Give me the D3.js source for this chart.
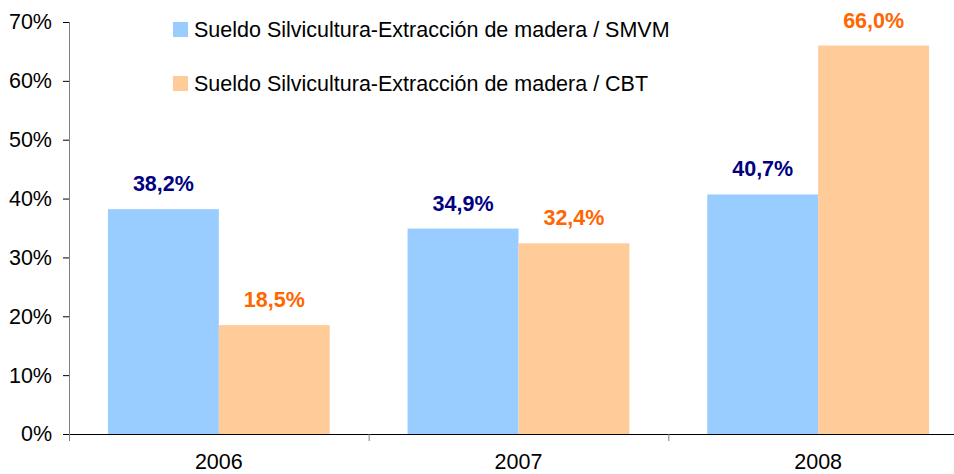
<!DOCTYPE html>
<html lang="es">
<head>
<meta charset="UTF-8">
<title>Sueldo Silvicultura</title>
<script src="https://cdn.jsdelivr.net/npm/d3@7"></script>
<style>
  body { margin: 0; background: #fff; }
  text { font-family: "Liberation Sans", Arial, sans-serif; }
</style>
</head>
<body>
<script>
    // datos
    var years = ["2006", "2007", "2008"];
    var smvm = [38.2, 34.9, 40.7];
    var cbt = [18.5, 32.4, 66.0];
    var seriesNames = ["Sueldo Silvicultura-Extracción de madera / SMVM",
                       "Sueldo Silvicultura-Extracción de madera / CBT"];
    var yTicks = [0, 10, 20, 30, 40, 50, 60, 70];

    var width = 954, height = 474;
    var mLeft = 69, mRight = 968, mTop = 22, mBottom = 434;
    var fs = 21.5;

    var svg = d3.select("body").append("svg")
        .attr("width", width)
        .attr("height", height);

    var x = d3.scaleBand().domain(years).range([mLeft, mRight]);
    var inner = d3.scaleBand().domain([0, 1]).range([0, x.bandwidth()])
        .paddingOuter(0.351).paddingInner(0);
    var y = d3.scaleLinear().domain([0, 70]).range([mBottom, mTop]);

    var series = [
        {name: seriesNames[0], values: smvm, fill: "#99ccff", label: "#000080"},
        {name: seriesNames[1], values: cbt, fill: "#ffcc99", label: "#ff6600"}
    ];

    var fmt = function (v) { return v.toFixed(1).replace(".", ",") + "%"; };

    // barras
    series.forEach(function (s, si) {
        svg.selectAll(".bar" + si)
            .data(s.values)
            .enter()
            .append("rect")
            .attr("x", function (d, i) { return x(years[i]) + inner(si); })
            .attr("y", function (d) { return y(d); })
            .attr("width", inner.bandwidth())
            .attr("height", function (d) { return mBottom - y(d); })
            .attr("fill", s.fill);

        svg.selectAll(".lab" + si)
            .data(s.values)
            .enter()
            .append("text")
            .attr("x", function (d, i) { return x(years[i]) + inner(si) + inner.bandwidth() / 2; })
            .attr("y", function (d) { return y(d) - 18; })
            .attr("text-anchor", "middle")
            .attr("font-size", fs)
            .attr("font-weight", "bold")
            .attr("fill", s.label)
            .text(fmt);
    });

    // eje y
    var yAxis = svg.append("g")
        .attr("transform", "translate(" + mLeft + ",0)")
        .call(d3.axisLeft(y).tickValues(yTicks).tickSize(6).tickPadding(11)
            .tickFormat(function (d) { return d + "%"; }));
    yAxis.select(".domain").attr("stroke", "#808080").attr("d", "M0.5," + mTop + "V" + mBottom);
    yAxis.selectAll(".tick line").attr("stroke", "#000");
    yAxis.selectAll("text").attr("font-size", fs).attr("fill", "#000")
        .style("font-family", "'Liberation Sans', Arial, sans-serif");

    // eje x
    var xAxis = svg.append("g")
        .attr("transform", "translate(0," + mBottom + ")")
        .call(d3.axisBottom(x).tickSize(0).tickPadding(20));
    xAxis.select(".domain").attr("stroke", "#000");
    xAxis.selectAll("text").attr("font-size", fs).attr("fill", "#000")
        .style("font-family", "'Liberation Sans', Arial, sans-serif");
    xAxis.selectAll(".sep")
        .data(years)
        .enter()
        .append("line")
        .attr("x1", function (d) { return x(d) + 0.5; })
        .attr("x2", function (d) { return x(d) + 0.5; })
        .attr("y1", 0)
        .attr("y2", 7)
        .attr("stroke", "#808080");

    // leyenda
    var legend = svg.append("g");
    series.forEach(function (s, si) {
        legend.append("rect")
            .attr("x", 173)
            .attr("y", 22 + si * 54)
            .attr("width", 15)
            .attr("height", 15)
            .attr("fill", s.fill);
        legend.append("text")
            .attr("x", 194)
            .attr("y", 37 + si * 54)
            .attr("font-size", fs)
            .attr("fill", "#000")
            .text(s.name);
    });
</script>
</body>
</html>
